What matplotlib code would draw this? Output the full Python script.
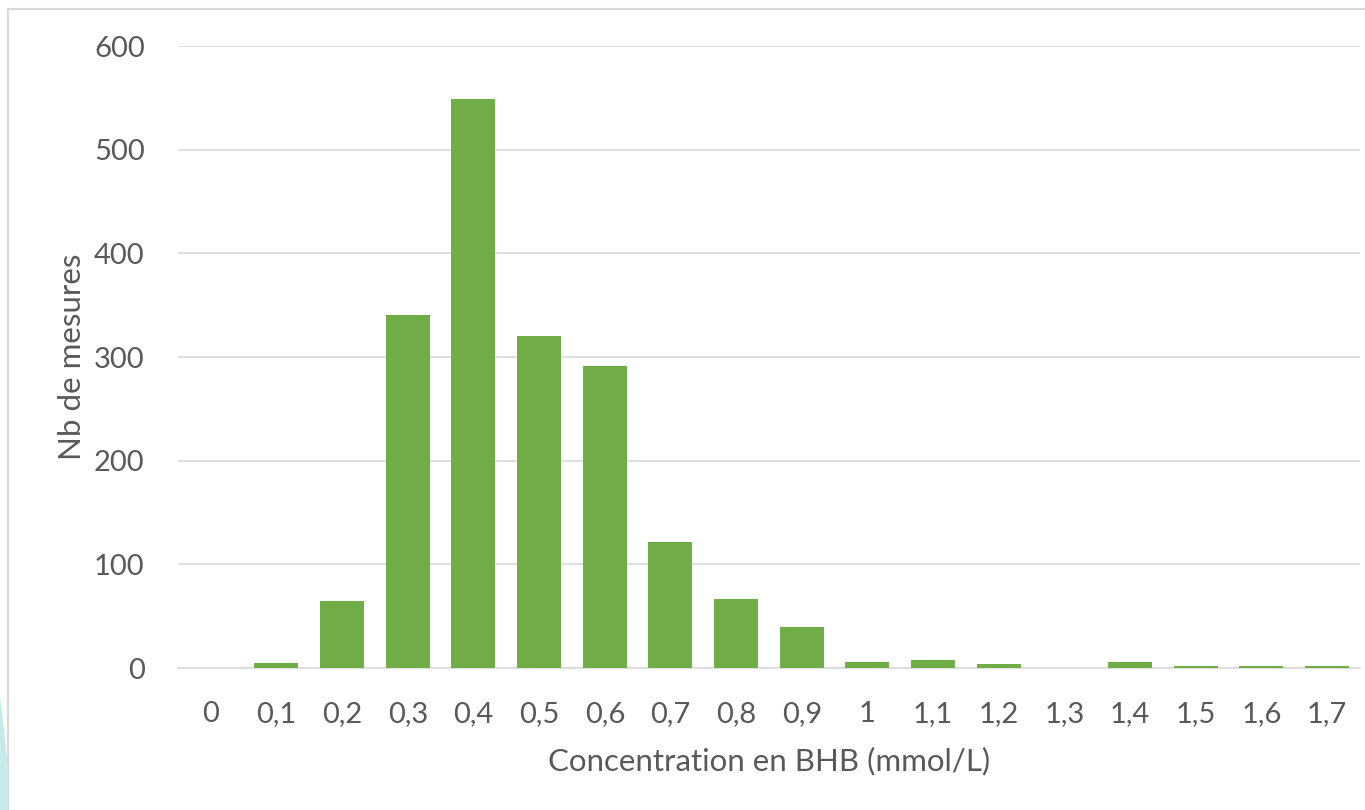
import matplotlib
matplotlib.use("Agg")
import matplotlib.pyplot as plt
from matplotlib.patches import Polygon, Rectangle

concentrations = ["0", "0,1", "0,2", "0,3", "0,4", "0,5", "0,6", "0,7", "0,8",
                  "0,9", "1", "1,1", "1,2", "1,3", "1,4", "1,5", "1,6", "1,7"]
counts = [0, 5, 65, 341, 549, 320, 291, 122, 67, 40, 6, 8, 4, 0, 6, 2, 2, 2]

text_color = "#595959"
bar_color = "#70ad47"

plt.rcParams["font.family"] = ["Lato", "DejaVu Sans"]

fig = plt.figure(figsize=(13.65, 8.1), dpi=100)
ax = fig.add_axes([0.1304, 0.1753, 0.8659, 0.7679])

x = list(range(len(concentrations)))
ax.bar(x, counts, width=0.67, color=bar_color, zorder=3)

ax.set_xlim(-0.5, len(concentrations) - 0.5)
ax.set_ylim(0, 600)
ax.set_yticks(range(0, 601, 100))
ax.set_xticks(x)
ax.set_xticklabels(concentrations)

ax.grid(axis="y", color="#d9d9d9", linewidth=1.2, zorder=0)
for side in ["top", "right", "left"]:
    ax.spines[side].set_visible(False)
ax.spines["bottom"].set_color("#d9d9d9")
ax.spines["bottom"].set_linewidth(1.2)
ax.tick_params(axis="both", length=0, labelsize=21, colors=text_color)
ax.tick_params(axis="x", pad=24)
ax.tick_params(axis="y", pad=24)

ax.set_xlabel("Concentration en BHB (mmol/L)", fontsize=22.5, color=text_color, labelpad=14)
ax.set_ylabel("Nb de mesures", fontsize=22.5, color=text_color, labelpad=6)

# slide frame and the cyan decoration in the bottom-left corner
fig.patches.append(Rectangle((8 / 1365, -0.01), 1.1, 1 - 9 / 810 + 0.01,
                             transform=fig.transFigure, fill=False,
                             edgecolor="#d9d9d9", linewidth=1.5))
fig.patches.append(Polygon([(0, 0), (0, 0.14), (0.003, 0.10), (0.006, 0.05), (0.006, 0)],
                           closed=True, transform=fig.transFigure,
                           facecolor="#c6eaea", edgecolor="none"))

fig.savefig("out.png", dpi=100)
